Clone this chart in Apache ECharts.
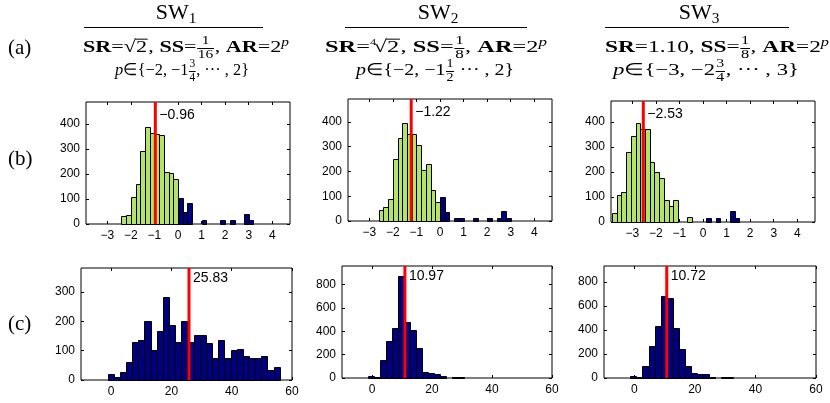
<!DOCTYPE html>
<html>
<head>
<meta charset="utf-8">
<script src="https://cdn.jsdelivr.net/npm/echarts@6/dist/echarts.min.js"></script>
<style>
  html, body { margin: 0; padding: 0; background: #fff; }
  #chart { width: 830px; height: 403px; }
</style>
</head>
<body>
<div id="chart"></div>
<script>
// row (b): histograms, bins of 0.2, first bin left edge given by *Start
const binB = 0.2
const b1Start = -2.4
const b1Counts = [33, 38, 108, 162, 292, 387, 365, 362, 358, 210, 205, 180,
  105, 48, 85, 0, 0, 18, 0, 0, 0, 15, 0, 15, 0, 0, 42, 15]
const b2Start = -2.6
const b2Counts = [44, 55, 89, 252, 336, 397, 349, 349, 308, 205, 228, 125, 78,
  98, 35, 0, 11, 13, 0, 0, 13, 0, 0, 13, 0, 13, 40, 11]
const b3Start = -3.86
const b3Counts = [38, 107, 122, 280, 343, 397, 372, 371, 242, 200, 176, 89, 65, 89,
  0, 0, 21, 0, 0, 0, 17, 0, 17, 0, 0, 45, 17]

// row (c)
const c1Start = -1.2, c1Bin = 2.04
const c1Counts = [20, 9, 28, 62, 128, 136, 200, 102, 166, 283, 189, 128, 200, 128,
  155, 155, 125, 76, 135, 76, 102, 105, 83, 76, 76, 83, 34, 45]
const c2Start = -1.3, c2Bin = 2.0
const c2Counts = [17, 6, 151, 314, 431, 874, 480, 409, 257, 51, 46, 37, 17, 0, 8, 8]
const c3Start = -1.3, c3Bin = 2.0
const c3Counts = [19, 11, 102, 270, 436, 684, 662, 414, 243, 102, 39, 33, 33, 11, 0, 8, 8]

// red marker values
const bMeans = [-0.96, -1.22, -2.53]
const cMeans = [25.83, 10.97, 10.72]

// tick labels
const bTickX = [-3, -2, -1, 0, 1, 2, 3, 4]
const bTickY = [0, 100, 200, 300, 400]
const cTickX = [0, 20, 40, 60]
const c1TickY = [0, 100, 200, 300]
const c23TickY = [0, 200, 400, 600, 800]

const GREEN = '#b3e467'
const BLUE = '#00007f'
const AXIS_FONT = 'Liberation Sans'
const SERIF = 'Liberation Serif'

const panels = [
  { grid: { left: 86, top: 102, width: 204, height: 122 }, start: b1Start, bin: binB, counts: b1Counts,
    xMin: -3.9, xMax: 4.75, yMax: 488, xTicks: bTickX, yTicks: bTickY, mean: bMeans[0], split: true, labDy: 13 },
  { grid: { left: 348, top: 99, width: 204, height: 122 }, start: b2Start, bin: binB, counts: b2Counts,
    xMin: -3.9, xMax: 4.75, yMax: 492, xTicks: bTickX, yTicks: bTickY, mean: bMeans[1], split: true, labDy: 13 },
  { grid: { left: 611, top: 101, width: 204, height: 121 }, start: b3Start, bin: binB, counts: b3Counts,
    xMin: -3.9, xMax: 4.75, yMax: 484, xTicks: bTickX, yTicks: bTickY, mean: bMeans[2], split: true, labDy: 13 },
  { grid: { left: 81, top: 268, width: 211, height: 112 }, start: c1Start, bin: c1Bin, counts: c1Counts,
    xMin: -10, xMax: 60, yMax: 382, xTicks: cTickX, yTicks: c1TickY, mean: cMeans[0], split: false, labDy: 10 },
  { grid: { left: 342, top: 266, width: 210, height: 112 }, start: c2Start, bin: c2Bin, counts: c2Counts,
    xMin: -10, xMax: 60, yMax: 960, xTicks: cTickX, yTicks: c23TickY, mean: cMeans[1], split: false, labDy: 10 },
  { grid: { left: 604, top: 266, width: 212, height: 112 }, start: c3Start, bin: c3Bin, counts: c3Counts,
    xMin: -10, xMax: 60, yMax: 932, xTicks: cTickX, yTicks: c23TickY, mean: cMeans[2], split: false, labDy: 10 }
]

const fmtNum = v => (v < 0 ? '\u2212' + Math.abs(v) : String(v))

const grids = [], xAxes = [], yAxes = [], series = []
panels.forEach((p, i) => {
  grids.push(Object.assign({ show: true, borderColor: '#000', borderWidth: 1, backgroundColor: '#fff' }, p.grid))
  const tick = vals => ({ show: true, inside: true, length: 3, customValues: vals, lineStyle: { color: '#000', width: 1 } })
  const noLine = { show: false, onZero: false }
  xAxes.push({
    type: 'value', gridIndex: i, min: p.xMin, max: p.xMax, position: 'bottom',
    axisLine: noLine, splitLine: { show: false }, axisTick: tick(p.xTicks),
    axisLabel: { customValues: p.xTicks, formatter: fmtNum, color: '#000', fontSize: 12, fontFamily: AXIS_FONT, margin: 6 }
  })
  xAxes.push({
    type: 'value', gridIndex: i, min: p.xMin, max: p.xMax, position: 'top',
    axisLine: noLine, splitLine: { show: false }, axisTick: tick(p.xTicks), axisLabel: { show: false }
  })
  yAxes.push({
    type: 'value', gridIndex: i, min: 0, max: p.yMax, position: 'left',
    axisLine: noLine, splitLine: { show: false }, axisTick: tick(p.yTicks),
    axisLabel: { customValues: p.yTicks, color: '#000', fontSize: 12, fontFamily: AXIS_FONT, margin: 6 }
  })
  yAxes.push({
    type: 'value', gridIndex: i, min: 0, max: p.yMax, position: 'right',
    axisLine: noLine, splitLine: { show: false }, axisTick: tick(p.yTicks), axisLabel: { show: false }
  })

  const w = p.bin
  series.push({
    type: 'custom', xAxisIndex: 2 * i, yAxisIndex: 2 * i,
    data: p.counts.map((c, k) => [p.start + w * (k + 0.5), c]),
    encode: { x: 0, y: 1 },
    renderItem (params, api) {
      const cx = api.value(0), h = api.value(1)
      if (!h) return
      const a = api.coord([cx - w / 2, h])
      const b = api.coord([cx + w / 2, 0])
      return {
        type: 'rect',
        shape: { x: Math.round(a[0]) + 0.5, y: Math.round(a[1]) + 0.5, width: Math.round(b[0]) - Math.round(a[0]), height: Math.round(b[1]) - Math.round(a[1]) },
        style: { fill: p.split && cx < 0 ? GREEN : BLUE, stroke: '#000', lineWidth: 1 }
      }
    }
  })
  series.push({
    type: 'custom', xAxisIndex: 2 * i, yAxisIndex: 2 * i, clip: false, z: 5,
    data: [[p.mean, 0]],
    encode: { x: 0, y: 1 },
    renderItem (params, api) {
      const x = api.coord([api.value(0), 0])[0]
      const cs = params.coordSys
      return {
        type: 'group',
        children: [
          { type: 'line', shape: { x1: x, y1: cs.y, x2: x, y2: cs.y + cs.height }, style: { stroke: '#ff0000', lineWidth: 3 } },
          { type: 'text', x: x + 4, y: cs.y + p.labDy,
            style: { text: fmtNum(api.value(0)), font: '14px "' + AXIS_FONT + '"', fill: '#000', textAlign: 'left', textVerticalAlign: 'middle' } }
        ]
      }
    }
  })
})

// ---- header (row a) laid out with measured text widths, stretched to the target width ----
const ctx = document.createElement('canvas').getContext('2d')
const fontOf = (size, bold, italic) => (italic ? 'italic ' : '') + (bold ? 'bold ' : '') + size + 'px "' + SERIF + '"'
const measure = (s, size, bold, italic) => { ctx.font = fontOf(size, bold, italic); return ctx.measureText(s).width }

function pieceWidth (pc, size) {
  if (pc.frac) return Math.max(measure(pc.frac[0], size * 0.7), measure(pc.frac[1], size * 0.7)) + 2
  if (pc.root) return (pc.idx ? measure(pc.idx, size * 0.5) * 0.6 : 0) + measure('\u221a', size) + measure(pc.root, size) + 1
  return measure(pc.t, size * (pc.s || 1), pc.b, pc.i)
}

function layoutRow (pieces, cx, cy, size, targetW) {
  const kids = []
  const total = pieces.reduce((acc, pc) => acc + pieceWidth(pc, size), 0)
  const sx = targetW ? targetW / total : 1
  let x = 0
  const txt = (s, px, py, sz, b, it) => kids.push({ type: 'text', silent: true,
    style: { text: s, x: px, y: py, font: fontOf(sz, b, it), fill: '#000', textAlign: 'left', textVerticalAlign: 'middle' } })
  const line = (x1, y1, x2, y2) => kids.push({ type: 'line', silent: true,
    shape: { x1, y1, x2, y2 }, style: { stroke: '#000', lineWidth: 1 } })
  pieces.forEach(pc => {
    const pw = pieceWidth(pc, size)
    if (pc.frac) {
      const fs = size * 0.7
      const wn = measure(pc.frac[0], fs), wd = measure(pc.frac[1], fs)
      txt(pc.frac[0], x + (pw - wn) / 2, cy - size * 0.4, fs)
      txt(pc.frac[1], x + (pw - wd) / 2, cy + size * 0.42, fs)
      line(x + 0.5, cy + 0.5, x + pw - 0.5, cy + 0.5)
    } else if (pc.root) {
      let xx = x
      if (pc.idx) {
        txt(pc.idx, xx, cy - size * 0.3, size * 0.5)
        xx += measure(pc.idx, size * 0.5) * 0.6
      }
      txt('\u221a', xx, cy, size)
      xx += measure('\u221a', size)
      txt(pc.root, xx, cy, size)
      line(xx - 0.5, cy - size * 0.52, xx + measure(pc.root, size) + 0.5, cy - size * 0.52)
    } else {
      txt(pc.t, x, cy + (pc.dy || 0) * size, size * (pc.s || 1), pc.b, pc.i)
    }
    x += pw
  })
  return { type: 'group', x: cx - total * sx / 2, y: 0, scaleX: sx, children: kids }
}

const titles = [['SW', '1'], ['SW', '2'], ['SW', '3']]
const titleX = [176, 438, 699]
const ruleSpan = [[84, 263], [345, 527], [605, 789]]
const row2 = [
  [{ t: 'SR', b: true }, { t: '=' }, { root: '2' }, { t: ', ' }, { t: 'SS', b: true }, { t: '=' }, { frac: ['1', '16'] },
    { t: ', ' }, { t: 'AR', b: true }, { t: '=2' }, { t: 'p', i: true, s: 0.7, dy: -0.3 }],
  [{ t: 'SR', b: true }, { t: '=' }, { root: '2', idx: '4' }, { t: ', ' }, { t: 'SS', b: true }, { t: '=' }, { frac: ['1', '8'] },
    { t: ', ' }, { t: 'AR', b: true }, { t: '=2' }, { t: 'p', i: true, s: 0.7, dy: -0.3 }],
  [{ t: 'SR', b: true }, { t: '=1.10, ' }, { t: 'SS', b: true }, { t: '=' }, { frac: ['1', '8'] },
    { t: ', ' }, { t: 'AR', b: true }, { t: '=2' }, { t: 'p', i: true, s: 0.7, dy: -0.3 }]
]
const row2X = [186, 436, 717]
const row2W = [206, 222, 224]
const row3 = [
  [{ t: 'p', i: true }, { t: '\u2208{\u22122, \u22121' }, { frac: ['3', '4'] }, { t: ', \u00b7\u00b7\u00b7 , 2}' }],
  [{ t: 'p', i: true }, { t: '\u2208{\u22122, \u22121' }, { frac: ['1', '2'] }, { t: ' \u00b7\u00b7\u00b7 , 2}' }],
  [{ t: 'p', i: true }, { t: '\u2208{\u22123, \u22122' }, { frac: ['3', '4'] }, { t: ', \u00b7\u00b7\u00b7 , 3}' }]
]
const row3X = [182, 435, 706]
const row3W = [134, 158, 186]

const graphic = []
titles.forEach((tt, i) => {
  graphic.push(layoutRow([{ t: tt[0] }, { t: tt[1], s: 0.7, dy: 0.25 }], titleX[i], 13, 22))
  graphic.push({ type: 'line', silent: true, shape: { x1: ruleSpan[i][0], y1: 27.5, x2: ruleSpan[i][1], y2: 27.5 }, style: { stroke: '#000', lineWidth: 1 } })
  graphic.push(layoutRow(row2[i], row2X[i], 48, 17, row2W[i]))
  graphic.push(layoutRow(row3[i], row3X[i], 71, 17, row3W[i]))
})
const rowLabels = ['(a)', '(b)', '(c)']
const rowLabelY = [48, 159, 324]
rowLabels.forEach((s, i) => {
  graphic.push({ type: 'text', silent: true, style: { text: s, x: 8, y: rowLabelY[i], font: '21px "' + SERIF + '"', fill: '#000', textVerticalAlign: 'middle' } })
})

const chart = echarts.init(document.getElementById('chart'))
chart.setOption({
  animation: false,
  backgroundColor: '#fff',
  grid: grids,
  xAxis: xAxes,
  yAxis: yAxes,
  series,
  graphic
})
</script>
</body>
</html>
